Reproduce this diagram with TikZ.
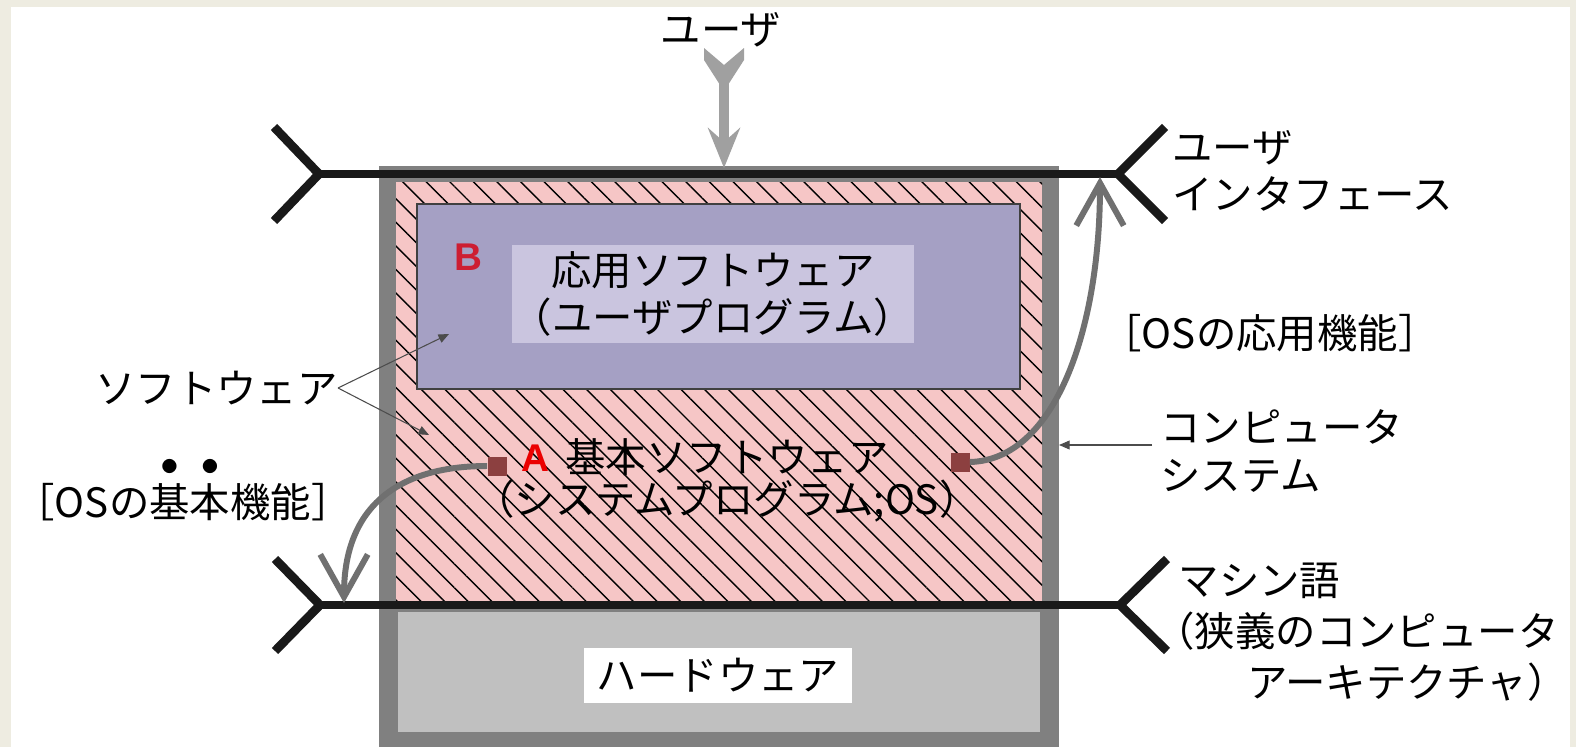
\documentclass[tikz,border=0pt]{standalone}
\usepackage{fontspec}
\setmainfont{Noto Sans CJK JP}
\newfontfamily\latinsans{Liberation Sans}
\usetikzlibrary{arrows.meta,patterns.meta}
\definecolor{framebeige}{RGB}{238,236,225}
\definecolor{sysgray}{RGB}{128,128,128}
\definecolor{hwgray}{RGB}{192,192,192}
\definecolor{swpink}{RGB}{246,198,198}
\definecolor{appmauve}{RGB}{165,160,196}
\definecolor{applight}{RGB}{202,197,223}
\definecolor{uigray}{RGB}{160,160,160}
\definecolor{osgray}{RGB}{112,112,112}
\definecolor{osred}{RGB}{140,64,64}
\definecolor{markred}{RGB}{235,0,0}
\definecolor{markcrimson}{RGB}{205,30,50}
% emphasis dot above a character
\newcommand\boten[1]{\makebox[0pt][l]{\makebox[1em]{\raisebox{1.12em}{\smash{\fontsize{9}{9}\selectfont ●}}}}#1}

\begin{document}
\begin{tikzpicture}[x=0.02cm, y=-0.02cm,
  jptext/.style={font=\fontsize{23}{27}\selectfont, inner sep=0pt, align=left},
  redmark/.style={font=\latinsans\bfseries\fontsize{22}{26}\selectfont, inner sep=0pt},
  ifline/.style={line width=5pt, draw=black!90},
  ifarm/.style={ifline, line join=bevel},
  userarr/.style={draw=uigray, line width=5.3pt,
    arrows={-Stealth[length=0.8cm,width=0.64cm,inset=0.28cm,fill=uigray]}},
  osfn/.style={draw=osgray, line width=3.4pt, arrows={-Straight Barb[length=0.85cm,width=0.95cm]}},
  sqr/.style={fill=osred, minimum size=0.38cm, inner sep=0pt},
  ptr/.style={draw=black!70, line width=0.6pt, arrows={-Triangle[length=6pt,width=5pt]}}
]
  \useasboundingbox (0,0) rectangle (1576,747);
  \fill[framebeige] (0,0) rectangle (1576,747);
  \fill[white] (11,7) rectangle (1570,747);

  % computer system, hardware, software
  \fill[sysgray] (379,166) rectangle (1059,747);
  \fill[hwgray] (398,612) rectangle (1040,732);
  \path[fill=swpink, postaction={pattern={Lines[angle=-45,distance=9.5pt,line width=0.8pt]}, pattern color=black}]
    (396,182) rectangle (1042,605);
  \draw[fill=appmauve, draw=black!75, line width=1.2pt] (417,204) rectangle (1020,389);

  \node[jptext, align=center, fill=applight, minimum width=7.94cm, minimum height=1.96cm,
        font=\fontsize{23}{27}\selectfont] (applbl) at (713,294) {応用ソフトウェア\\（ユーザプログラム）};
  \node[jptext, align=center, font=\fontsize{23}{24}\selectfont] (baselbl) at (727,480)
    {基本ソフトウェア\\（システムプログラム;OS）};
  \node[jptext, fill=white, minimum width=5.36cm, minimum height=1.1cm] (hwlbl) at (718,675) {ハードウェア};
  \node[redmark, text=markcrimson] (markB) at (468,257) {B};
  \node[redmark, text=markred] (markA) at (535,458) {A};

  % interfaces
  \coordinate (uiL) at (319,174);
  \coordinate (uiR) at (1118,174);
  \coordinate (mlL) at (320,605);
  \coordinate (mlR) at (1120,605);
  \draw[ifline] (uiL) -- (uiR);
  \draw[ifline] (mlL) -- (mlR);
  \draw[ifarm] (uiL) ++(-45,-47) -- (uiL) -- ++(-45,47);
  \draw[ifarm] (uiR) ++(47,-47) -- (uiR) -- ++(47,47);
  \draw[ifarm] (mlL) ++(-45,-46) -- (mlL) -- ++(-45,46);
  \draw[ifarm] (mlR) ++(47,-46) -- (mlR) -- ++(47,46);

  % user
  \node[jptext] (user) at (721,30) {ユーザ};
  \coordinate (usertail) at (724,48);
  \coordinate (uiin) at (724,168);
  \fill[uigray] (usertail) ++(-20,0) -- ++(20,17) -- ++(20,-17) -- ++(0,12) -- ++(-18,28)
    -- ++(-4,0) -- ++(-18,-28) -- cycle;
  \draw[userarr] (usertail) ++(0,22) -- (uiin);

  % OS functions
  \node[sqr] (sqA) at (497,466) {};
  \node[sqr] (sqB) at (960,462) {};
  \coordinate (tipA) at (344,603);
  \coordinate (tipB) at (1100,177);
  \draw[osfn] (sqA.west) .. controls (400,466) and (344,505) .. (tipA);
  \draw[osfn] (sqB.east) .. controls (1055,460) and (1100,330) .. (tipB);

  % labels
  \node[jptext, anchor=west] (uilbl) at (1172,171) {ユーザ\\インタフェース};
  \node[jptext] (osapp) at (1270,333) {［OSの応用機能］};
  \node[jptext, anchor=west] (cslbl) at (1160,451) {コンピュータ\\システム};
  \node[jptext, anchor=west, font=\fontsize{23}{29}\selectfont] (mllbl) at (1154,632)
    {\hspace*{0.6em}マシン語\\（狭義のコンピュータ\\\hspace*{2.3em}アーキテクチャ）};
  \node[jptext] (osbase) at (183,497) {［OSの\boten{基}\boten{本}機能］};
  \node[jptext, anchor=east] (swlbl) at (338,388) {ソフトウェア};

  \coordinate (swB) at (449,334);
  \coordinate (swA) at (429,435);
  \coordinate (csin) at (1059,445);
  \draw[ptr] (swlbl.east) -- (swB);
  \draw[ptr] (swlbl.east) -- (swA);
  \draw[ptr] (1152,445) -- (csin);
\end{tikzpicture}
\end{document}
